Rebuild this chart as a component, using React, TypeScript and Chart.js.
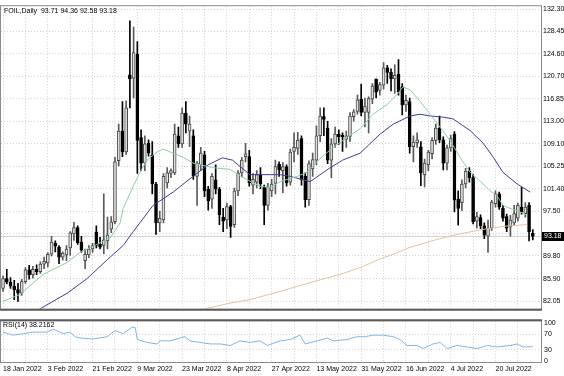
import React, { useEffect, useRef } from 'react';
import { Chart, registerables } from 'chart.js';
Chart.register(...registerables);

// ---------- data ----------
const titleText = 'FOIL,Daily  93.71 94.36 92.58 93.18';
const rsiTitle = 'RSI(14) 38.2162';
const labelIdx = [0, 12, 24, 36, 48, 60, 72, 84, 96, 108, 120, 132];
const dateLabels = ['18 Jan 2022', '3 Feb 2022', '21 Feb 2022', '9 Mar 2022', '23 Mar 2022', '8 Apr 2022', '27 Apr 2022', '13 May 2022', '31 May 2022', '16 Jun 2022', '4 Jul 2022', '20 Jul 2022'];
const gridIdx = [0, 6, 12, 18, 24, 30, 36, 42, 48, 54, 60, 66, 72, 78, 84, 90, 96, 102, 108, 114, 120, 126, 132, 138];
const priceTicks = [132.3, 128.45, 124.6, 120.7, 116.85, 113.0, 109.1, 105.25, 101.4, 97.5, 93.65, 89.8, 85.9, 82.05];
const hiddenPriceLabel = 93.65;
const rsiTicks = [100, 70, 30, 0];

const opens = [84.2,85.9,85.3,84.6,84.0,83.4,85.4,87.4,86.6,87.5,
87.1,88.4,88.6,90.1,92.0,91.3,89.6,90.0,91.2,93.6,
94.7,92.2,89.0,90.0,91.0,93.9,91.8,91.6,92.4,94.4,
95.7,106.2,111.3,107.7,121.0,120.4,124.5,110.2,105.8,109.2,
107.2,102.2,95.5,96.0,102.4,104.0,104.1,110.5,109.1,114.4,
111.3,110.5,103.5,105.5,107.2,101.3,99.6,102.9,101.3,96.5,
96.0,98.3,95.2,101.0,104.1,106.9,106.9,102.0,102.5,103.8,
101.6,98.5,101.0,102.3,105.6,104.5,105.2,102.5,107.8,108.3,
110.0,103.5,99.5,104.8,106.3,110.5,113.8,111.8,106.3,109.1,
110.8,110.6,109.9,110.4,113.8,114.7,116.8,114.5,114.5,116.8,
120.2,118.3,119.2,122.2,121.4,120.3,121.1,118.9,115.8,116.4,
108.6,109.3,108.6,103.8,105.5,107.4,109.7,111.8,109.8,105.8,
108.4,110.8,99.6,99.0,102.2,104.4,103.3,95.8,96.4,95.0,
93.2,94.6,98.8,100.5,98.0,96.6,94.8,95.5,96.3,98.2,
97.1,98.5,93.71];
const highs = [86.4,87.5,86.1,85.6,85.1,85.8,87.8,88.2,88.0,88.3,
88.8,89.6,90.4,93.2,92.4,91.6,90.5,91.6,94.0,95.6,
95.0,93.2,91.0,91.6,92.0,95.0,93.0,100.5,96.5,96.6,
106.8,112.5,116.4,116.5,130.3,129.2,126.7,111.5,110.5,109.8,
109.5,102.5,97.5,104.0,105.0,104.8,112.5,112.0,115.3,116.4,
113.9,111.5,106.1,108.5,107.8,101.8,104.0,105.5,101.6,98.0,
98.9,98.5,101.5,104.5,106.8,109.2,108.0,104.0,104.5,105.0,
102.0,102.3,103.0,106.3,106.0,105.9,105.5,108.2,111.0,111.1,
110.5,104.1,106.2,107.5,112.2,115.3,115.3,113.0,110.0,112.0,
111.5,111.0,111.3,114.5,115.0,117.5,119.4,117.0,117.2,119.5,
120.3,119.7,123.1,122.6,122.0,122.7,123.6,119.5,117.5,117.0,
110.5,111.0,109.5,106.5,108.0,110.2,112.5,113.9,110.3,108.9,
110.6,111.2,101.0,102.9,104.9,105.0,103.9,97.3,96.9,95.5,
96.0,99.4,101.0,100.8,98.5,97.0,96.8,98.5,98.9,101.6,
99.0,99.0,94.36];
const lows = [83.7,85.0,84.2,82.3,82.0,83.0,85.1,85.8,86.0,86.6,
86.8,87.6,87.9,89.8,90.5,88.5,89.1,89.0,89.9,92.5,
91.8,90.4,87.6,89.5,90.4,91.2,91.0,90.2,91.0,93.8,
95.3,105.3,106.9,107.3,115.3,117.0,104.0,104.5,104.5,107.0,
100.5,93.5,94.0,95.5,101.5,103.3,103.8,108.5,108.5,111.0,
108.6,103.0,98.5,104.5,100.0,97.7,98.0,100.5,95.2,94.0,
94.5,93.0,94.7,100.2,103.4,106.0,101.8,100.5,101.5,101.4,
95.2,97.7,100.0,100.5,103.5,100.7,101.8,102.0,106.0,107.3,
102.0,98.2,98.5,103.5,105.5,109.5,110.5,105.7,103.3,108.5,
109.0,107.8,108.5,109.5,113.0,114.2,113.9,112.0,111.0,116.0,
117.0,117.5,118.5,119.5,118.2,117.8,117.5,114.1,114.7,107.5,
106.0,108.5,101.9,101.7,104.5,106.5,109.0,109.3,104.6,104.6,
107.8,97.4,95.1,97.6,101.5,102.5,95.3,94.6,94.5,92.8,
90.4,94.2,98.2,97.8,95.8,94.0,93.2,95.0,95.8,97.0,
96.5,92.4,92.58];
const closes = [85.9,85.3,84.6,84.0,83.4,85.4,87.4,86.6,87.5,87.1,
88.4,88.9,90.1,92.2,91.5,89.6,90.3,91.0,93.8,94.7,
92.1,90.8,90.1,91.0,91.6,91.6,91.3,92.6,93.4,95.7,
106.0,111.3,107.7,115.3,120.3,124.8,109.7,105.8,109.1,107.5,
102.2,95.5,96.3,103.5,104.1,104.5,110.8,109.1,114.4,112.5,
112.5,103.6,105.8,107.5,101.0,99.3,103.5,101.3,96.9,95.8,
98.3,94.9,101.0,104.1,106.3,107.4,102.4,103.0,103.8,102.2,
98.5,101.7,102.2,105.2,104.6,105.2,102.4,107.7,108.5,109.7,
103.0,99.5,105.7,106.4,110.5,113.9,113.3,106.3,109.1,110.8,
110.3,110.3,110.5,113.9,114.6,116.7,114.5,115.6,116.9,119.1,
118.0,119.3,122.2,121.4,120.3,120.9,118.1,115.8,116.6,108.6,
109.4,109.8,104.1,105.8,107.7,109.7,111.8,109.8,105.8,108.4,
110.0,99.4,98.0,102.2,104.4,103.3,95.7,96.6,95.0,93.4,
94.6,99.1,100.5,98.2,96.3,94.6,96.0,97.1,98.5,97.4,
98.2,94.0,93.18];

// moving averages: [bar index, value]
const greenMA = [[0,82.0],[4.6,83.2],[10.7,86.6],[17.2,88.7],[20.6,90.4],[25.2,91.8],[28.7,92.9],[31.4,95.5],[32.2,98.0],[34.9,101.8],[36.7,104.2],[38.6,106.3],[41.3,107.7],[42.9,108.2],[45.6,107.5],[48.3,106.8],[50.9,105.8],[56.3,105.0],[60.9,104.7],[64.3,103.3],[68.9,101.8],[71.6,101.6],[74.3,102.6],[78.8,103.5],[81.5,104.2],[85,106.6],[88.5,108.5],[92.2,110.2],[95.7,111.7],[99.2,114.2],[103,115.9],[105.6,117.6],[107.2,118.9],[109.1,118.4],[111.8,116.4],[114.5,114.2],[117.2,111.9],[119.8,109.7],[122.5,106.8],[125.2,104.2],[127.9,102.7],[130.6,101.0],[132.4,100.2],[134,98.5],[135.9,98.0],[138.6,97.4],[140.5,96.8]];
const blueMA = [[9.1,80.4],[17.2,83.4],[22.5,85.9],[28.7,89.6],[32.2,91.6],[34.9,94.0],[40.2,98.5],[45.6,100.8],[50.9,103.5],[55,105.5],[58.8,106.7],[61.5,106.3],[66.2,103.8],[74.3,103.8],[77,103.5],[82.3,102.6],[87.7,105.0],[91,106.3],[95.7,107.5],[101.1,110.8],[104.6,112.5],[109.1,113.9],[111.8,114.2],[114.5,113.9],[118,113.7],[120.6,113.4],[125.2,111.4],[128.7,109.2],[131.4,106.8],[134,104.2],[137.8,102.2],[141.3,100.8]];
const orangeMA = [[52.8,80.5],[60.9,81.7],[66.2,82.3],[74.3,83.7],[78.7,84.55],[85,85.7],[91.2,86.8],[96.5,88.0],[101,89.3],[103.8,89.9],[109.1,91.3],[116.3,92.65],[121.7,93.5],[127.9,94.3],[134,94.9],[140.5,95.2]];
const rsiLine = [[0,76],[2.7,68],[5.4,72],[8,76],[11.8,76],[13.4,84],[16.1,72],[18,76],[19.3,64],[20.6,60.5],[24.1,58],[27.9,64],[30,80],[32.2,72],[34.6,89],[35.4,88],[36,56.5],[38.6,49],[41.3,45],[42.1,53],[44.8,53],[47.5,60.5],[48.8,64],[50.1,53],[52.8,49],[55.5,45],[58.2,45],[60.9,41],[63.5,53],[66.2,49],[68.9,53],[70.8,41],[74.3,53],[77,56.5],[79.6,68],[81,45],[84.2,53],[86.9,60.5],[88.5,53],[92.2,56.5],[94.9,64],[97,64],[99.2,68],[101.9,68],[104.6,64],[106.4,56.5],[108.3,41],[111,41],[112.6,33],[115.3,45],[117.2,49],[119,33],[121.7,41],[124.4,37],[127.1,33],[129.8,41],[132.4,37],[135.9,41],[137.8,45],[139.4,37],[142,38.2]];

// ---------- layout / style ----------
const X_MIN = -0.55;
const X_MAX = 144.2;
const FONT = { family: 'Liberation Sans, Arial, sans-serif', size: 7 };
const CANVAS_FONT = '7px "Liberation Sans", Arial, sans-serif';
const GRID = '#d2d2d2';
const toXY = (arr: number[][]) => arr.map(([x, y]) => ({ x, y }));

const framePlugin = (thick: 'bottom' | 'top') => ({
  id: 'frame' + thick,
  afterDraw(chart: any) {
    const { ctx, chartArea: a } = chart;
    ctx.save();
    ctx.strokeStyle = '#8a8a8a';
    ctx.lineWidth = 1;
    ctx.strokeRect(a.left - 0.5, a.top - 0.5, a.right - a.left + 1, a.bottom - a.top + 1);
    ctx.strokeStyle = '#5a5a5a';
    ctx.lineWidth = 2;
    ctx.beginPath();
    const y = thick === 'bottom' ? a.bottom + 1 : a.top - 1;
    ctx.moveTo(a.left - 1, y);
    ctx.lineTo(a.right + 1, y);
    ctx.stroke();
    ctx.restore();
  },
});

function MainChart() {
  const ref = useRef<HTMLCanvasElement>(null);
  useEffect(() => {
    if (!ref.current) return;
    const lastClose = closes[closes.length - 1];
    const bull = closes.map((c, i) => c >= opens[i]);
    const chart = new Chart(ref.current, {
      type: 'bar',
      data: {
        datasets: [
          { type: 'line', data: toXY(greenMA), borderColor: '#8ccf9e', borderWidth: 1, pointRadius: 0, order: -1 } as any,
          { type: 'line', data: toXY(blueMA), borderColor: '#3d3d98', borderWidth: 1, pointRadius: 0, order: -1 } as any,
          { type: 'line', data: toXY(orangeMA), borderColor: '#e2c39c', borderWidth: 1, pointRadius: 0, order: -1 } as any,
          {
            type: 'line',
            data: [{ x: X_MIN, y: lastClose }, { x: X_MAX, y: lastClose }],
            borderColor: '#cfcfcf',
            borderWidth: 1,
            pointRadius: 0,
            order: 5,
          } as any,
          {
            type: 'bar',
            data: opens.map((o, i) => ({ x: i, y: [o, closes[i]] })),
            backgroundColor: bull.map((b) => (b ? '#dedede' : '#000000')),
            borderColor: bull.map((b) => (b ? '#4a4a4a' : '#000000')),
            borderWidth: 1,
            borderSkipped: false,
            barThickness: 3,
            grouped: false,
            order: 0,
          } as any,
          {
            type: 'bar',
            data: lows.map((l, i) => ({ x: i, y: [l, highs[i]] })),
            backgroundColor: bull.map((b) => (b ? '#5a5a5a' : '#000000')),
            borderWidth: 0,
            barThickness: 1,
            grouped: false,
            order: 1,
          } as any,
        ],
      },
      options: {
        animation: false,
        responsive: false,
        events: [],
        layout: { padding: { left: 1, top: 2, right: 0, bottom: 2 } },
        plugins: { legend: { display: false }, tooltip: { enabled: false } },
        scales: {
          x: {
            type: 'linear',
            min: X_MIN,
            max: X_MAX,
            offset: false,
            grid: { color: GRID, drawTicks: false, offset: false },
            border: { display: false, dash: [1, 2] },
            ticks: { display: false },
            afterBuildTicks: (s: any) => { s.ticks = gridIdx.map((v) => ({ value: v })); },
            afterFit: (s: any) => { s.height = 0; },
          },
          y: {
            position: 'right',
            min: 80.71,
            max: 132.8,
            grid: { color: GRID, drawTicks: false },
            border: { display: false, dash: [1, 2] },
            ticks: {
              font: FONT,
              color: '#000',
              padding: 2,
              callback: (v: any) => (Math.abs(Number(v) - hiddenPriceLabel) < 1e-6 ? '' : Number(v).toFixed(2)),
            },
            afterBuildTicks: (s: any) => { s.ticks = priceTicks.map((v) => ({ value: v })); },
            afterFit: (s: any) => { s.width = 23; },
          },
        },
      } as any,
      plugins: [
        framePlugin('bottom'),
        {
          id: 'labels',
          afterDraw(c: any) {
            const { ctx, chartArea: a } = c;
            const y = Math.round(c.scales.y.getPixelForValue(lastClose));
            ctx.save();
            ctx.fillStyle = '#000';
            ctx.fillRect(a.right + 1, y - 4, 23, 9);
            ctx.fillStyle = '#fff';
            ctx.font = CANVAS_FONT;
            ctx.textBaseline = 'middle';
            ctx.textAlign = 'left';
            ctx.fillText(lastClose.toFixed(2), a.right + 3, y + 0.5);
            ctx.fillStyle = '#000';
            ctx.fillText(titleText, a.left + 3, a.top + 5);
            ctx.restore();
          },
        },
      ],
    });
    return () => chart.destroy();
  }, []);
  return <canvas ref={ref} width={564} height={315} style={{ position: 'absolute', left: 0, top: 0 }} />;
}

function RsiChart() {
  const ref = useRef<HTMLCanvasElement>(null);
  useEffect(() => {
    if (!ref.current) return;
    const chart = new Chart(ref.current, {
      type: 'line',
      data: {
        datasets: [{ data: toXY(rsiLine), borderColor: '#7fb6e6', borderWidth: 1, pointRadius: 0 }],
      },
      options: {
        animation: false,
        responsive: false,
        events: [],
        layout: { padding: { left: 1, top: 2, right: 0, bottom: 0 } },
        plugins: { legend: { display: false }, tooltip: { enabled: false } },
        scales: {
          x: {
            type: 'linear',
            min: X_MIN,
            max: X_MAX,
            grid: { color: GRID, drawTicks: false },
            border: { display: false, dash: [1, 2] },
            ticks: {
              font: FONT,
              color: '#000',
              padding: 3,
              align: 'start',
              maxRotation: 0,
              autoSkip: false,
              callback: (v: any) => {
                const k = labelIdx.indexOf(Number(v));
                return k >= 0 ? dateLabels[k] : '';
              },
            },
            afterBuildTicks: (s: any) => { s.ticks = gridIdx.map((v) => ({ value: v })); },
            afterFit: (s: any) => { s.height = 14; },
          },
          y: {
            position: 'right',
            min: -2.3,
            max: 104.6,
            grid: {
              drawTicks: false,
              color: (ctx: any) => (ctx.tick && (ctx.tick.value === 70 || ctx.tick.value === 30) ? GRID : 'rgba(0,0,0,0)'),
            },
            border: { display: false, dash: [1, 2] },
            ticks: { font: FONT, color: '#000', padding: 3, callback: (v: any) => String(v) },
            afterBuildTicks: (s: any) => { s.ticks = rsiTicks.map((v) => ({ value: v })); },
            afterFit: (s: any) => { s.width = 23; },
          },
        },
      } as any,
      plugins: [
        framePlugin('top'),
        {
          id: 'rsiTitle',
          afterDraw(c: any) {
            const { ctx, chartArea: a } = c;
            ctx.save();
            ctx.fillStyle = '#000';
            ctx.font = CANVAS_FONT;
            ctx.textBaseline = 'middle';
            ctx.fillText(rsiTitle, a.left + 2, a.top + 4);
            ctx.restore();
          },
        },
      ],
    });
    return () => chart.destroy();
  }, []);
  return <canvas ref={ref} width={564} height={62} style={{ position: 'absolute', left: 0, top: 314 }} />;
}

export default function App() {
  return (
    <div style={{ position: 'absolute', left: 0, top: 0, width: 564, height: 376, background: '#fff', overflow: 'hidden' }}>
      <MainChart />
      <RsiChart />
    </div>
  );
}
